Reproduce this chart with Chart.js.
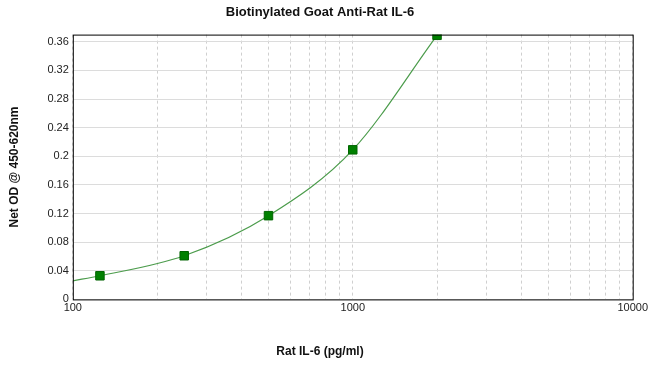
<!DOCTYPE html>
<html>
<head>
  <title>Biotinylated Goat Anti-Rat IL-6</title>
  <script src="https://cdn.jsdelivr.net/npm/chart.js"></script>
  <style>
    body { margin: 0; background: #fff; }
    #wrap { width: 650px; height: 365px; }
  </style>
</head>
<body>
  <div id="wrap"><canvas id="curveChart"></canvas></div>

  <script>
    // standard points (pg/ml vs net OD)
    const concentrations = [125, 250, 500, 1000, 2000];
    const netOD = [0.033, 0.061, 0.117, 0.209, 0.369];

    // fitted curve
    const fitX = [100, 125, 250, 500, 1000, 2000];
    const fitY = [0.026, 0.033, 0.061, 0.117, 0.209, 0.369];

    // x grid positions (log decades) and y ticks
    const xTicks = [100, 200, 300, 400, 500, 600, 700, 800, 900, 1000,
                    2000, 3000, 4000, 5000, 6000, 7000, 8000, 9000, 10000];
    const xLabels = [100, 1000, 10000];
    const yTicks = [0, 0.04, 0.08, 0.12, 0.16, 0.2, 0.24, 0.28, 0.32, 0.36];

    Chart.defaults.font.family = "'Liberation Sans', Arial, sans-serif";
    Chart.defaults.color = '#222';

    // frame around the plot area
    const framePlugin = {
      id: 'frame',
      afterDraw(chart) {
        const a = chart.chartArea;
        const ctx = chart.ctx;
        ctx.save();
        ctx.strokeStyle = '#000';
        ctx.lineWidth = 1;
        ctx.strokeRect(a.left + 0.5, a.top + 0.5, a.right - a.left, a.bottom - a.top);
        ctx.restore();
      }
    };

    new Chart(document.getElementById('curveChart'), {
      type: 'scatter',
      data: {
        datasets: [
          {
            label: 'Fit',
            data: fitX.map((x, i) => ({ x: x, y: fitY[i] })),
            showLine: true,
            borderColor: '#4c9c4c',
            borderWidth: 1.2,
            pointRadius: 0,
            cubicInterpolationMode: 'monotone',
            order: 2
          },
          {
            label: 'Standards',
            data: concentrations.map((x, i) => ({ x: x, y: netOD[i] })),
            pointStyle: 'rect',
            pointRadius: 6,
            backgroundColor: '#008000',
            borderColor: '#006400',
            borderWidth: 1,
            order: 1
          }
        ]
      },
      options: {
        responsive: true,
        maintainAspectRatio: false,
        animation: false,
        layout: { padding: { top: 0, right: 17, bottom: 4, left: 7 } },
        plugins: {
          legend: { display: false },
          tooltip: { enabled: false },
          title: {
            display: true,
            text: 'Biotinylated Goat Anti-Rat IL-6',
            font: { size: 13, weight: 'bold' },
            color: '#111',
            padding: { top: 5, bottom: 14 }
          },
          subtitle: {
            display: true,
            position: 'bottom',
            text: 'Rat IL-6 (pg/ml)',
            font: { size: 12, weight: 'bold' },
            color: '#111',
            padding: { top: 28, bottom: 2 }
          }
        },
        scales: {
          x: {
            type: 'logarithmic',
            min: 100,
            max: 10000,
            afterBuildTicks: (axis) => { axis.ticks = xTicks.map(v => ({ value: v })); },
            ticks: {
              autoSkip: false,
              maxRotation: 0,
              font: { size: 11 },
              padding: 2,
              callback: (v) => xLabels.includes(v) ? String(v) : ''
            },
            grid: {
              color: '#cfcfcf',
              drawTicks: false
            },
            border: { dash: [3, 3], display: false }
          },
          y: {
            min: 0,
            max: 0.37,
            afterBuildTicks: (axis) => { axis.ticks = yTicks.map(v => ({ value: v })); },
            ticks: {
              font: { size: 11 },
              padding: 4,
              callback: (v) => String(Math.round(v * 100) / 100)
            },
            grid: {
              color: '#dcdcdc',
              drawTicks: false
            },
            border: { display: false },
            title: {
              display: true,
              text: 'Net OD @ 450-620nm',
              font: { size: 12, weight: 'bold' },
              color: '#111',
              padding: { top: 0, bottom: 22 }
            }
          }
        }
      },
      plugins: [framePlugin]
    });
  </script>
</body>
</html>
